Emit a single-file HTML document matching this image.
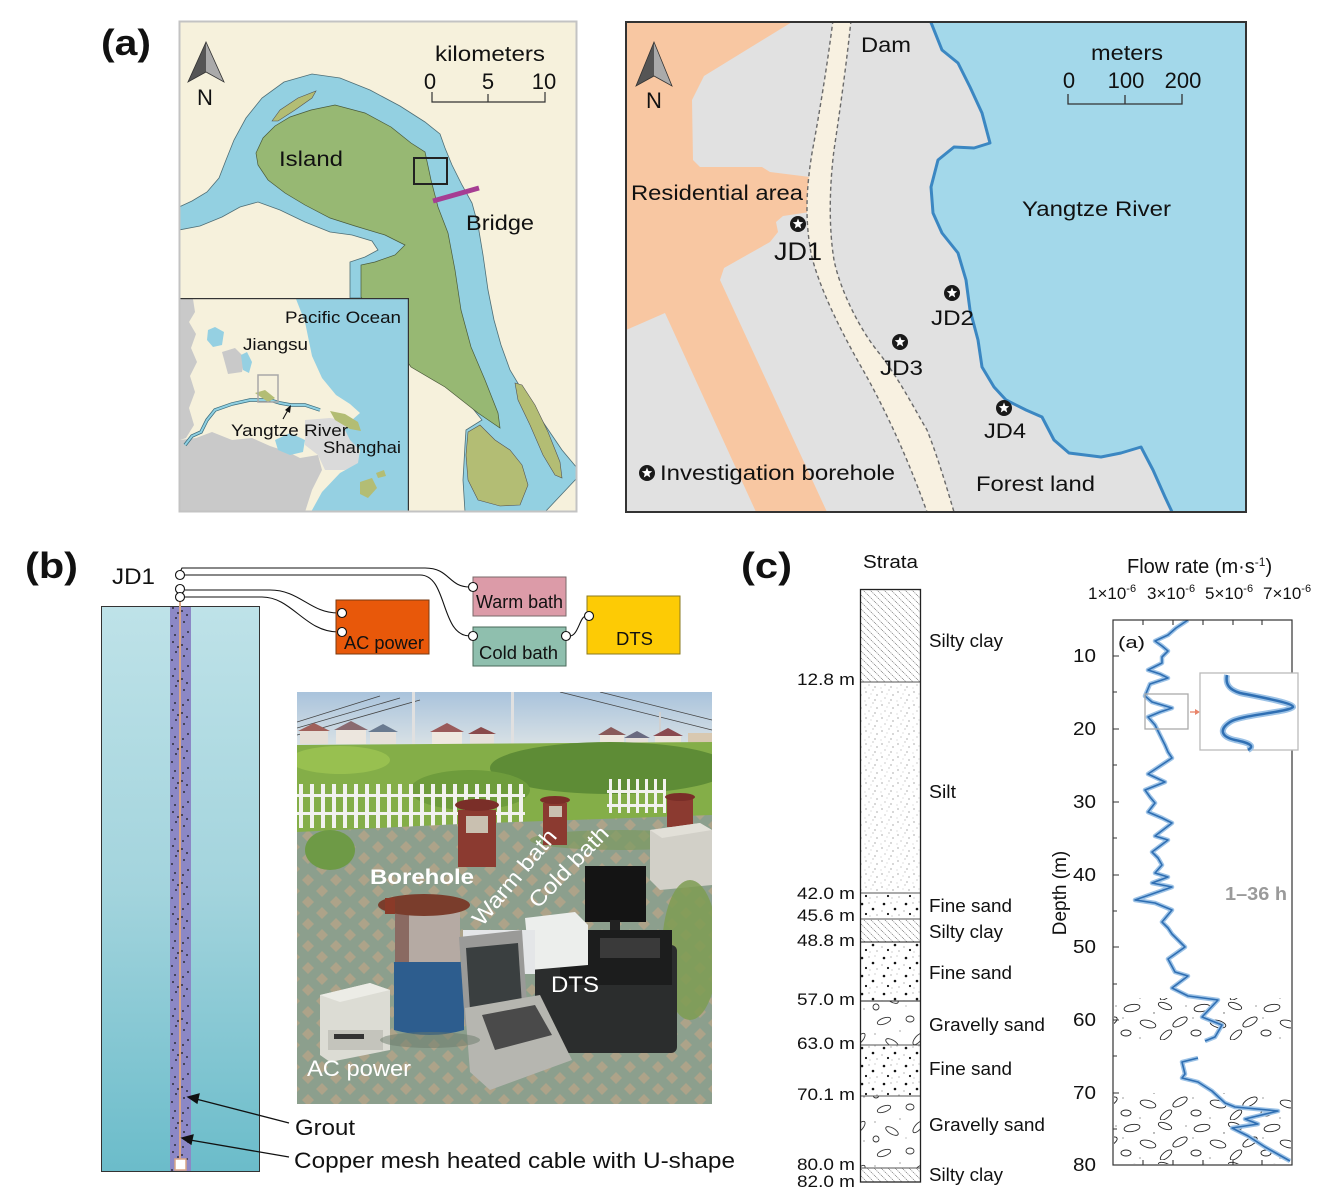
<!DOCTYPE html>
<html><head><meta charset="utf-8">
<style>
html,body{margin:0;padding:0;background:#fff;}
svg{display:block;font-family:"Liberation Sans",Arial,sans-serif;}
</style></head><body>
<svg width="1320" height="1194" viewBox="0 0 1320 1194" xmlns="http://www.w3.org/2000/svg">
<defs>
  <pattern id="hatch" width="7" height="7" patternUnits="userSpaceOnUse">
    <path d="M0,0 L7,7 M-1,6 L1,8 M6,-1 L8,1" stroke="#7a7a7a" stroke-width="0.7" stroke-dasharray="1.3 0.8"/>
  </pattern>
  <pattern id="silt" width="16" height="13" patternUnits="userSpaceOnUse">
    <g fill="#777"><circle cx="2" cy="3" r="0.6"/><circle cx="9" cy="1" r="0.5"/><circle cx="13" cy="6" r="0.6"/><circle cx="5" cy="9" r="0.5"/><circle cx="11" cy="11" r="0.6"/><circle cx="1" cy="12" r="0.4"/><circle cx="7" cy="5" r="0.4"/></g>
  </pattern>
  <pattern id="fsand" width="22" height="18" patternUnits="userSpaceOnUse">
    <g fill="#111"><circle cx="4" cy="4" r="1.3"/><circle cx="15" cy="9" r="1.3"/><circle cx="8" cy="14" r="1.1"/></g>
    <g fill="#888"><circle cx="11" cy="3" r="0.6"/><circle cx="19" cy="15" r="0.6"/><circle cx="2" cy="11" r="0.6"/><circle cx="17" cy="2" r="0.5"/><circle cx="12" cy="16" r="0.5"/></g>
  </pattern>
  <pattern id="gravel" width="58" height="44" patternUnits="userSpaceOnUse">
    <g fill="none" stroke="#333" stroke-width="0.9">
      <ellipse cx="14" cy="9" rx="7" ry="3" transform="rotate(-20 14 9)"/>
      <ellipse cx="40" cy="7" rx="4" ry="3"/>
      <ellipse cx="48" cy="27" rx="7" ry="3" transform="rotate(-50 48 27)"/>
      <ellipse cx="22" cy="31" rx="7" ry="3" transform="rotate(30 22 31)"/>
      <ellipse cx="6" cy="39" rx="3" ry="3"/>
    </g>
    <g fill="#666"><circle cx="30" cy="19" r="0.6"/><circle cx="5" cy="22" r="0.6"/><circle cx="52" cy="41" r="0.6"/><circle cx="36" cy="38" r="0.5"/></g>
  </pattern>
  <pattern id="gravel2" width="70" height="40" patternUnits="userSpaceOnUse">
    <g fill="none" stroke="#222" stroke-width="0.9">
      <ellipse cx="12" cy="8" rx="8" ry="3.5" transform="rotate(-10 12 8)"/>
      <ellipse cx="45" cy="6" rx="7" ry="3" transform="rotate(20 45 6)"/>
      <ellipse cx="60" cy="22" rx="8" ry="3.5" transform="rotate(-30 60 22)"/>
      <ellipse cx="28" cy="24" rx="8" ry="3.5" transform="rotate(15 28 24)"/>
      <ellipse cx="6" cy="33" rx="5" ry="3"/>
      <ellipse cx="46" cy="35" rx="7" ry="3" transform="rotate(-40 46 35)"/>
    </g>
    <g fill="#555"><circle cx="34" cy="13" r="0.7"/><circle cx="20" cy="38" r="0.6"/><circle cx="66" cy="6" r="0.6"/><circle cx="3" cy="18" r="0.6"/></g>
  </pattern>
  <pattern id="grout" x="170" y="606" width="21" height="34" patternUnits="userSpaceOnUse">
    <g fill="#111"><circle cx="3" cy="2" r="0.9"/><circle cx="12" cy="5" r="0.9"/><circle cx="17" cy="9" r="0.9"/><circle cx="6" cy="12" r="0.9"/><circle cx="14" cy="16" r="0.9"/><circle cx="2" cy="20" r="0.9"/><circle cx="10" cy="23" r="0.9"/><circle cx="18" cy="26" r="0.9"/><circle cx="5" cy="29" r="0.9"/><circle cx="13" cy="31" r="0.9"/><circle cx="8" cy="7" r="0.9"/></g>
  </pattern>
  <pattern id="pave" width="28" height="22" patternUnits="userSpaceOnUse">
    <rect width="28" height="22" fill="#8c9f8d"/>
    <path d="M14,5 L20,11 L14,17 L8,11Z" fill="#ada389"/>
    <path d="M0,-6 L6,0 L0,6 L-6,0Z M28,-6 L34,0 L28,6 L22,0Z M0,16 L6,22 L0,28 L-6,22Z M28,16 L34,22 L28,28 L22,22Z" fill="#ada389"/>
  </pattern>
  <linearGradient id="colG" x1="0" y1="0" x2="0" y2="1">
    <stop offset="0" stop-color="#bee2e8"/><stop offset="0.5" stop-color="#a3d4dd"/><stop offset="1" stop-color="#6bbcca"/>
  </linearGradient>
  <linearGradient id="skyG" x1="0" y1="0" x2="0" y2="1">
    <stop offset="0" stop-color="#a9c3dc"/><stop offset="1" stop-color="#dde4e6"/>
  </linearGradient>
  <clipPath id="lmClip"><rect x="180" y="22" width="396" height="489"/></clipPath>
  <clipPath id="inClip"><rect x="180" y="299" width="228" height="213"/></clipPath>
  <clipPath id="rmClip"><rect x="627" y="23" width="618" height="488"/></clipPath>
  <clipPath id="phClip"><rect x="297" y="692" width="415" height="412"/></clipPath>
  <clipPath id="chClip"><rect x="1113" y="620" width="179" height="545"/></clipPath>
  <g id="star">
    <circle r="8" fill="#1a1a1a"/>
    <polygon points="0,-5.5 1.41,-1.94 5.23,-1.7 2.28,0.74 3.23,4.45 0,2.4 -3.23,4.45 -2.28,0.74 -5.23,-1.7 -1.41,-1.94" fill="#fff"/>
  </g>
</defs>

<!-- ============ PANEL LABELS ============ -->
<text x="101" y="55" font-size="36" font-weight="bold" textLength="50" lengthAdjust="spacingAndGlyphs" fill="#111">(a)</text>
<text x="25" y="578" font-size="36" font-weight="bold" textLength="53" lengthAdjust="spacingAndGlyphs" fill="#111">(b)</text>
<text x="741" y="578" font-size="36" font-weight="bold" textLength="51" lengthAdjust="spacingAndGlyphs" fill="#111">(c)</text>

<!-- ============ LEFT MAP ============ -->
<g clip-path="url(#lmClip)">
  <rect x="179" y="21" width="398" height="491" fill="#f6f1dc"/>
  <path d="M179,207 L192,201 L207,192 L219,178 L226,160 L234,140 L246,118 L262,98 L284,82 L312,74 L340,78 L370,90 L400,106 L425,122 L440,134 L445,148 L452,165 L462,185 L472,203 L478,225 L483,255 L488,290 L494,320 L501,345 L510,370 L525,395 L545,425 L562,450 L577,468 L577,478 L545,512 L465,512 L463,480 L465,445 L466,430 L482,420 L470,405 L440,380 L405,355 L380,320 L368,300 L365,298 L350,298 L350,262 L365,257 L378,250 L372,241 L352,235 L330,232 L305,222 L280,210 L258,202 L240,207 L222,217 L200,226 L179,230 Z" fill="#93d0e1" stroke="#4e6e76" stroke-width="0.8"/>
  <path d="M256,153 L263,138 L275,126 L290,117 L311,110 L335,105 L365,113 L391,127 L411,143 L425,152 L431,180 L438,207 L448,233 L455,270 L461,310 L471,347 L485,380 L498,413 L500,428 L478,413 L445,387 L411,367 L378,320 L361,297 L361,265 L375,262 L395,255 L405,245 L385,235 L355,226 L330,218 L305,205 L285,193 L268,180 L258,165 Z" fill="#97b873" stroke="#4a5a3a" stroke-width="0.7"/>
  <path d="M272,121 L280,110 L298,98 L316,91 L312,98 L295,110 L278,121 Z" fill="#b3bd74" stroke="#555" stroke-width="0.6"/>
  <path d="M468,432 L480,425 L495,440 L510,450 L522,465 L528,485 L520,505 L500,506 L478,500 L468,480 L466,455 Z" fill="#b3bd74" stroke="#555" stroke-width="0.6"/>
  <path d="M515,383 L522,385 L535,405 L548,432 L560,462 L562,478 L555,475 L543,455 L530,425 L518,400 Z" fill="#b3bd74" stroke="#555" stroke-width="0.6"/>
  <path d="M555,512 L577,480 L577,512 Z" fill="#f6f1dc"/>
  <line x1="433" y1="201" x2="479" y2="188" stroke="#a63e93" stroke-width="5"/>
  <rect x="414" y="158" width="33" height="26" fill="none" stroke="#222" stroke-width="2"/>
  <text x="435" y="61" font-size="21" textLength="110" lengthAdjust="spacingAndGlyphs" fill="#111">kilometers</text>
  <text x="430" y="89" font-size="22" text-anchor="middle" fill="#111">0</text>
  <text x="488" y="89" font-size="22" text-anchor="middle" fill="#111">5</text>
  <text x="544" y="89" font-size="22" text-anchor="middle" fill="#111">10</text>
  <path d="M432,92 L432,102 L545,102 L545,92 M488,102 L488,94" fill="none" stroke="#333" stroke-width="1.2"/>
  <text x="279" y="166" font-size="21" textLength="64" lengthAdjust="spacingAndGlyphs" fill="#111">Island</text>
  <text x="466" y="230" font-size="21" textLength="68" lengthAdjust="spacingAndGlyphs" fill="#111">Bridge</text>
  <polygon points="206,42 188,82 206,72" fill="#555"/>
  <polygon points="206,42 206,72 224,82" fill="#aaa"/>
  <polygon points="206,42 188,82 206,72 224,82" fill="none" stroke="#333" stroke-width="0.8"/>
  <text x="205" y="105" font-size="22" text-anchor="middle" fill="#111">N</text>

  <!-- inset -->
  <g clip-path="url(#inClip)">
    <rect x="179" y="298" width="230" height="215" fill="#f6f1dc"/>
    <path d="M180,299 L193,299 L195,312 L189,322 L196,334 L191,348 L197,362 L190,376 L195,392 L189,408 L194,425 L186,438 L180,440 Z" fill="#c9c9c9"/>
    <path d="M180,440 L196,438 L212,432 L232,440 L252,438 L270,446 L288,452 L300,458 L318,455 L322,470 L312,490 L305,512 L180,512 Z" fill="#c9c9c9"/>
    <path d="M222,352 L235,348 L245,358 L242,372 L228,374 Z" fill="#c9c9c9"/>
    <path d="M305,420 L330,418 L352,422 L360,432 L358,450 L362,463 L345,470 L325,470 L318,455 L305,445 Z" fill="#dadada"/>
    <path d="M296,299 L409,299 L409,512 L311,512 L322,492 L340,473 L358,463 L360,450 L350,440 L345,430 L352,420 L360,413 L350,404 L336,395 L322,378 L312,356 L305,322 Z" fill="#95d0e2"/>
    <path d="M185,445 L192,436 L201,432 L207,420 L215,410 L232,404 L250,400 L270,400 L280,403 L291,405 L305,405 L320,410" fill="none" stroke="#3c6e7e" stroke-width="3.5"/>
    <path d="M185,445 L192,436 L201,432 L207,420 L215,410 L232,404 L250,400 L270,400 L280,403 L291,405 L305,405 L320,410" fill="none" stroke="#8fd0e2" stroke-width="2"/>
    <path d="M208,330 L215,327 L224,332 L222,345 L213,347 L207,340 Z" fill="#95d0e2"/>
    <path d="M241,355 L247,352 L252,362 L249,373 L243,370 Z" fill="#95d0e2"/>
    <path d="M275,440 L290,433 L305,440 L303,452 L290,455 L278,450 Z" fill="#95d0e2"/>
    <path d="M330,411 L345,414 L358,422 L361,431 L350,429 L335,420 Z" fill="#b3bd74"/>
    <path d="M255,393 L265,390 L275,398 L268,402 Z" fill="#b3bd74"/>
    <path d="M360,482 L372,478 L377,488 L368,498 L360,494 Z" fill="#b3bd74"/>
    <path d="M376,473 L384,470 L386,476 L378,478 Z" fill="#b3bd74"/>
    <rect x="258" y="375" width="20" height="27" fill="none" stroke="#a8a8a8" stroke-width="1.5"/>
    <line x1="283" y1="419" x2="288" y2="410" stroke="#111" stroke-width="1.1"/>
    <polygon points="291,405 290,413 285,410" fill="#111"/>
    <text x="285" y="323" font-size="17" textLength="116" lengthAdjust="spacingAndGlyphs" fill="#111">Pacific Ocean</text>
    <text x="243" y="350" font-size="17" textLength="65" lengthAdjust="spacingAndGlyphs" fill="#111">Jiangsu</text>
    <text x="231" y="436" font-size="17" textLength="117" lengthAdjust="spacingAndGlyphs" fill="#111">Yangtze River</text>
    <text x="323" y="453" font-size="17" textLength="78" lengthAdjust="spacingAndGlyphs" fill="#111">Shanghai</text>
  </g>
  <rect x="179.6" y="298.6" width="228.8" height="213" fill="none" stroke="#333" stroke-width="1.2"/>
</g>
<rect x="179.5" y="21.5" width="397" height="490" fill="none" stroke="#c3c3c3" stroke-width="2"/>

<!-- ============ RIGHT MAP ============ -->
<g clip-path="url(#rmClip)">
  <rect x="626" y="22" width="620" height="490" fill="#e1e1e1"/>
  <path d="M626,22 L792,22 L704,76 L692,100 L693,160 L700,167 L762,167 L770,172 L810,177 L810,212 L783,216 L776,222 L778,232 L770,242 L724,268 L720,280 L827,512 L756,512 L665,313 L626,330 Z" fill="#f8c7a2"/>
  <path d="M833,20 C828,60 820,110 812,153 C806,190 805,220 811,253 C818,285 840,330 863,370 C880,400 905,450 927,512 L954,512 C946,485 937,455 927,430 C915,410 900,380 879,353 C860,330 840,290 834,260 C829,230 829,190 834,150 C840,110 847,60 851,20 Z" fill="#f8f1e1"/>
  <path d="M833,20 C828,60 820,110 812,153 C806,190 805,220 811,253 C818,285 840,330 863,370 C880,400 905,450 927,512" fill="none" stroke="#6a6a6a" stroke-width="1.4" stroke-dasharray="4 3"/>
  <path d="M851,20 C847,60 840,110 834,150 C829,190 829,230 834,260 C840,290 860,330 879,353 C900,380 915,410 927,430 C937,455 946,485 954,512" fill="none" stroke="#6a6a6a" stroke-width="1.4" stroke-dasharray="4 3"/>
  <path d="M930,20 L942,50 L958,63 L970,87 L982,113 L990,143 L974,148 L954,147 L938,160 L931,187 L933,213 L942,233 L958,253 L966,280 L970,310 L978,340 L982,367 L994,387 L1006,400 L1026,410 L1042,417 L1054,440 L1069,453 L1101,457 L1121,453 L1141,447 L1153,470 L1165,497 L1173,514 L1248,514 L1248,20 Z" fill="#a3d8ea"/>
  <path d="M930,20 L942,50 L958,63 L970,87 L982,113 L990,143 L974,148 L954,147 L938,160 L931,187 L933,213 L942,233 L958,253 L966,280 L970,310 L978,340 L982,367 L994,387 L1006,400 L1026,410 L1042,417 L1054,440 L1069,453 L1101,457 L1121,453 L1141,447 L1153,470 L1165,497 L1173,514" fill="none" stroke="#3b87c2" stroke-width="3" stroke-linejoin="round"/>
  <use href="#star" x="798" y="224"/>
  <use href="#star" x="952" y="293"/>
  <use href="#star" x="900" y="342"/>
  <use href="#star" x="1004" y="408"/>
  <use href="#star" x="647" y="473"/>
  <text x="861" y="52" font-size="21" textLength="50" lengthAdjust="spacingAndGlyphs" fill="#111">Dam</text>
  <text x="1091" y="60" font-size="21" textLength="72" lengthAdjust="spacingAndGlyphs" fill="#111">meters</text>
  <text x="1069" y="88" font-size="22" text-anchor="middle" fill="#111">0</text>
  <text x="1126" y="88" font-size="22" text-anchor="middle" fill="#111">100</text>
  <text x="1183" y="88" font-size="22" text-anchor="middle" fill="#111">200</text>
  <path d="M1068,94 L1068,104 L1182,104 L1182,94 M1125,104 L1125,95" fill="none" stroke="#333" stroke-width="1.3"/>
  <text x="631" y="200" font-size="21" textLength="172" lengthAdjust="spacingAndGlyphs" fill="#111">Residential area</text>
  <text x="1022" y="216" font-size="21" textLength="149" lengthAdjust="spacingAndGlyphs" fill="#111">Yangtze River</text>
  <text x="774" y="260" font-size="25" textLength="48" lengthAdjust="spacingAndGlyphs" fill="#111">JD1</text>
  <text x="931" y="325" font-size="21" textLength="43" lengthAdjust="spacingAndGlyphs" fill="#111">JD2</text>
  <text x="880" y="375" font-size="21" textLength="43" lengthAdjust="spacingAndGlyphs" fill="#111">JD3</text>
  <text x="984" y="438" font-size="21" textLength="42" lengthAdjust="spacingAndGlyphs" fill="#111">JD4</text>
  <text x="660" y="480" font-size="21" textLength="235" lengthAdjust="spacingAndGlyphs" fill="#111">Investigation borehole</text>
  <text x="976" y="491" font-size="21" textLength="119" lengthAdjust="spacingAndGlyphs" fill="#111">Forest land</text>
  <polygon points="654,42 636,86 654,76" fill="#555"/>
  <polygon points="654,42 654,76 672,86" fill="#aaa"/>
  <polygon points="654,42 636,86 654,76 672,86" fill="none" stroke="#333" stroke-width="0.8"/>
  <text x="654" y="108" font-size="22" text-anchor="middle" fill="#111">N</text>
</g>
<rect x="626" y="22" width="620" height="490" fill="none" stroke="#333" stroke-width="2"/>

<!-- ============ PANEL B ============ -->
<rect x="101.5" y="606.5" width="158" height="565" fill="url(#colG)" stroke="#333" stroke-width="1"/>
<rect x="170" y="607" width="21" height="564" fill="#8c88c6"/>
<rect x="170" y="607" width="21" height="564" fill="url(#grout)"/>
<line x1="180" y1="597" x2="180" y2="1160" stroke="#d9a587" stroke-width="2"/>
<rect x="175" y="1159" width="11" height="11" fill="#fff" stroke="#d9a587" stroke-width="1.5"/>

<g fill="none" stroke="#111" stroke-width="1.1">
  <path d="M180,572 L182,568 L425,568 C450,568 448,587 470,587"/>
  <path d="M185,575 L420,575 C448,575 440,636 470,636"/>
  <path d="M185,590 L270,590 C300,590 310,613 338,613"/>
  <path d="M185,597 L262,597 C292,597 305,632 338,632"/>
  <path d="M570,636 C578,636 580,616 586,616"/>
</g>
<rect x="336" y="600" width="93" height="54" fill="#e8580a" stroke="#7a3a10" stroke-width="1"/>
<rect x="473" y="577" width="93" height="39" fill="#dc9ba8" stroke="#7a6a6a" stroke-width="1"/>
<rect x="473" y="627" width="93" height="39" fill="#8fbfae" stroke="#4a6a5a" stroke-width="1"/>
<rect x="587" y="596" width="93" height="58" fill="#fdcb05" stroke="#8a7a20" stroke-width="1"/>
<g fill="#fff" stroke="#111" stroke-width="1.1">
  <circle cx="180" cy="575" r="4.5"/>
  <circle cx="180" cy="589" r="4.5"/>
  <circle cx="180" cy="597" r="4.5"/>
  <circle cx="342" cy="613" r="4.5"/>
  <circle cx="342" cy="632" r="4.5"/>
  <circle cx="473" cy="587" r="4.5"/>
  <circle cx="473" cy="636" r="4.5"/>
  <circle cx="566" cy="636" r="4.5"/>
  <circle cx="589" cy="616" r="4.5"/>
</g>
<text x="112" y="584" font-size="22" textLength="43" lengthAdjust="spacingAndGlyphs" fill="#111">JD1</text>
<text x="476" y="608" font-size="18" textLength="87" lengthAdjust="spacingAndGlyphs" fill="#111">Warm bath</text>
<text x="344" y="649" font-size="18" textLength="80" lengthAdjust="spacingAndGlyphs" fill="#111">AC power</text>
<text x="479" y="659" font-size="18" textLength="79" lengthAdjust="spacingAndGlyphs" fill="#111">Cold bath</text>
<text x="616" y="645" font-size="18" textLength="37" lengthAdjust="spacingAndGlyphs" fill="#111">DTS</text>

<!-- photo -->
<g clip-path="url(#phClip)">
  <rect x="297" y="692" width="415" height="412" fill="#8fa090"/>
  <rect x="297" y="692" width="415" height="58" fill="url(#skyG)"/>
  <g stroke="#444" stroke-width="0.8" fill="none">
    <path d="M297,722 L380,696"/><path d="M297,728 L400,698"/><path d="M297,735 L420,700"/>
    <path d="M560,692 L712,730"/><path d="M600,692 L712,720"/>
  </g>
  <rect x="412" y="692" width="3" height="62" fill="#e0e0e0"/>
  <rect x="511" y="692" width="3" height="64" fill="#e0e0e0"/>
  <rect x="659" y="712" width="2" height="42" fill="#d0d0d0"/>
  <g>
    <rect x="300" y="730" width="28" height="14" fill="#e6ded6"/><path d="M298,731 L314,723 L330,731Z" fill="#a0605a"/>
    <rect x="336" y="729" width="30" height="15" fill="#ece6de"/><path d="M334,730 L351,721 L368,730Z" fill="#8a6a70"/>
    <rect x="370" y="731" width="26" height="13" fill="#e6e0da"/><path d="M368,732 L383,724 L398,732Z" fill="#6a7a90"/>
    <rect x="432" y="731" width="30" height="14" fill="#eee8e0"/><path d="M430,732 L447,723 L464,732Z" fill="#9a5a5a"/>
    <rect x="470" y="733" width="24" height="12" fill="#e6e0da"/><path d="M468,734 L481,727 L496,734Z" fill="#8a4a4a"/>
    <rect x="600" y="734" width="24" height="12" fill="#ece6de"/><path d="M598,735 L611,727 L626,735Z" fill="#8a5a5a"/>
    <rect x="626" y="737" width="22" height="10" fill="#e6e0da"/><path d="M624,738 L637,731 L650,738Z" fill="#6a6a80"/>
    <rect x="655" y="735" width="26" height="13" fill="#eae4dc"/><path d="M653,736 L668,728 L683,736Z" fill="#8a4a50"/>
    <rect x="688" y="733" width="24" height="14" fill="#d8c8b0"/>
  </g>
  <path d="M297,745 L712,742 L712,830 L297,840 Z" fill="#84ae48"/>
  <ellipse cx="610" cy="768" rx="120" ry="26" fill="#5e8c36"/>
  <ellipse cx="470" cy="790" rx="60" ry="20" fill="#6e9c3c"/>
  <ellipse cx="340" cy="760" rx="50" ry="14" fill="#98c050"/>
  <g fill="#f2f2ee">
    <rect x="297" y="794" width="228" height="3"/><rect x="297" y="812" width="228" height="3"/>
    <rect x="299" y="784" width="4" height="44"/><rect x="310" y="784" width="4" height="44"/><rect x="321" y="784" width="4" height="44"/><rect x="332" y="784" width="4" height="44"/><rect x="343" y="784" width="4" height="44"/><rect x="354" y="784" width="4" height="44"/><rect x="365" y="784" width="4" height="44"/><rect x="376" y="784" width="4" height="44"/><rect x="387" y="784" width="4" height="44"/><rect x="398" y="784" width="4" height="44"/><rect x="409" y="784" width="4" height="44"/><rect x="420" y="784" width="4" height="44"/><rect x="431" y="784" width="4" height="44"/><rect x="442" y="784" width="4" height="44"/><rect x="453" y="784" width="4" height="44"/><rect x="464" y="784" width="4" height="44"/><rect x="475" y="784" width="4" height="44"/><rect x="486" y="784" width="4" height="44"/><rect x="497" y="784" width="4" height="44"/><rect x="508" y="784" width="4" height="44"/><rect x="519" y="784" width="4" height="44"/>
    <rect x="607" y="790" width="58" height="3"/><rect x="607" y="804" width="58" height="3"/>
    <rect x="609" y="779" width="3" height="34"/><rect x="618" y="779" width="3" height="34"/><rect x="627" y="779" width="3" height="34"/><rect x="636" y="779" width="3" height="34"/><rect x="645" y="779" width="3" height="34"/><rect x="654" y="779" width="3" height="34"/><rect x="663" y="779" width="3" height="34"/>
  </g>
  <path d="M297,832 L460,824 L712,815 L712,1104 L297,1104 Z" fill="url(#pave)"/>
  <ellipse cx="620" cy="840" rx="90" ry="10" fill="#7c9a60" opacity="0.7"/>
  <ellipse cx="330" cy="850" rx="25" ry="20" fill="#6e9a46"/>
  <!-- red cylinders -->
  <rect x="458" y="810" width="38" height="57" fill="#8b3a30"/>
  <ellipse cx="477" cy="805" rx="22" ry="6" fill="#7a2e28"/>
  <rect x="466" y="816" width="22" height="17" fill="#c9c0b0"/>
  <rect x="543" y="803" width="24" height="42" fill="#8b3a30"/>
  <ellipse cx="555" cy="800" rx="15" ry="4" fill="#7a2e28"/>
  <rect x="549" y="806" width="13" height="11" fill="#c9c0b0"/>
  <rect x="667" y="799" width="26" height="28" fill="#8b3a30"/>
  <ellipse cx="680" cy="797" rx="15" ry="4" fill="#7a2e28"/>
  <!-- concrete -->
  <path d="M650,830 L700,823 L712,830 L712,885 L660,890 L650,880 Z" fill="#d2d0c8"/>
  <path d="M650,830 L700,823 L712,830 L662,838 Z" fill="#e2e0d8"/>
  <!-- vegetation right foreground -->
  <ellipse cx="690" cy="950" rx="28" ry="70" fill="#7e9c52" opacity="0.85"/>
  <!-- monitor -->
  <rect x="585" y="866" width="61" height="56" fill="#141414"/>
  <rect x="610" y="920" width="10" height="14" fill="#222"/>
  <!-- DTS case -->
  <rect x="535" y="945" width="142" height="108" rx="6" fill="#2b2d2d"/>
  <rect x="560" y="930" width="112" height="55" fill="#1c1d1d"/>
  <rect x="600" y="938" width="60" height="20" fill="#3a3a3a"/>
  <!-- white cooler / box -->
  <path d="M525,918 L575,912 L588,925 L588,965 L530,970 Z" fill="#eceeec"/>
  <rect x="463" y="930" width="72" height="44" fill="#e4e6e8"/>
  <!-- borehole -->
  <rect x="395" y="905" width="65" height="60" fill="#b5aaa3"/>
  <rect x="395" y="905" width="14" height="60" fill="#8a6a62"/>
  <path d="M394,962 L464,962 L464,1030 Q430,1040 394,1030 Z" fill="#2d5d8e"/>
  <ellipse cx="424" cy="905" rx="46" ry="11" fill="#7a3d2c"/>
  <rect x="385" y="898" width="10" height="16" fill="#8a3a28"/>
  <!-- AC power box -->
  <path d="M320,995 L370,983 L390,990 L390,1050 L330,1062 L320,1055 Z" fill="#dcdcd4"/>
  <path d="M320,995 L370,983 L390,990 L340,1002 Z" fill="#ecece6"/>
  <rect x="328" y="1030" width="55" height="20" fill="#c4c4bc"/>
  <rect x="334" y="1034" width="30" height="5" fill="#333"/>
  <!-- laptop -->
  <path d="M459,937 L522,930 L528,1020 L465,1025 Z" fill="#9a9a98"/>
  <path d="M466,948 L518,943 L522,1005 L470,1010 Z" fill="#3a3f40"/>
  <path d="M465,1008 L540,995 L572,1060 L490,1090 L470,1072 Z" fill="#b6b6b0"/>
  <path d="M482,1015 L535,1005 L552,1035 L495,1050 Z" fill="#4a4a4a"/>
  <!-- shadows -->
  <ellipse cx="430" cy="1040" rx="50" ry="8" fill="#6a7a6a" opacity="0.5"/>
  <text x="370" y="884" font-size="21" font-weight="bold" textLength="104" lengthAdjust="spacingAndGlyphs" fill="#fff">Borehole</text>
  <text transform="translate(520,882) rotate(-50)" font-size="22" text-anchor="middle" textLength="118" lengthAdjust="spacingAndGlyphs" fill="#fff">Warm bath</text>
  <text transform="translate(574,872) rotate(-46)" font-size="22" text-anchor="middle" textLength="104" lengthAdjust="spacingAndGlyphs" fill="#fff">Cold bath</text>
  <text x="551" y="992" font-size="22" textLength="48" lengthAdjust="spacingAndGlyphs" fill="#fff">DTS</text>
  <text x="307" y="1076" font-size="22" textLength="104" lengthAdjust="spacingAndGlyphs" fill="#fff">AC power</text>
</g>

<!-- arrows to grout / cable -->
<g stroke="#111" stroke-width="1.3" fill="#111">
  <line x1="289" y1="1123" x2="196" y2="1099"/>
  <polygon points="188,1097 199,1094 197,1103"/>
  <line x1="289" y1="1157" x2="190" y2="1140"/>
  <polygon points="182,1138 193,1135 191,1144"/>
</g>
<text x="295" y="1135" font-size="22" textLength="60" lengthAdjust="spacingAndGlyphs" fill="#111">Grout</text>
<text x="294" y="1168" font-size="22" textLength="441" lengthAdjust="spacingAndGlyphs" fill="#111">Copper mesh heated cable with U-shape</text>

<!-- ============ PANEL C: STRATA ============ -->
<text x="863" y="568" font-size="18" textLength="55" lengthAdjust="spacingAndGlyphs" fill="#111">Strata</text>
<rect x="861" y="590" width="59" height="92" fill="url(#hatch)"/>
<rect x="861" y="682" width="59" height="211" fill="url(#silt)"/>
<rect x="861" y="893" width="59" height="26" fill="url(#fsand)"/>
<rect x="861" y="919" width="59" height="23" fill="url(#hatch)"/>
<rect x="861" y="942" width="59" height="59" fill="url(#fsand)"/>
<rect x="861" y="1001" width="59" height="44" fill="url(#gravel)"/>
<rect x="861" y="1045" width="59" height="51" fill="url(#fsand)"/>
<rect x="861" y="1096" width="59" height="72" fill="url(#gravel)"/>
<rect x="861" y="1168" width="59" height="14" fill="url(#hatch)"/>
<g stroke="#555" stroke-width="0.9">
  <line x1="861" y1="682" x2="920" y2="682"/>
  <line x1="861" y1="893" x2="920" y2="893"/>
  <line x1="861" y1="919" x2="920" y2="919"/>
  <line x1="861" y1="942" x2="920" y2="942" stroke="#222"/>
  <line x1="861" y1="1001" x2="920" y2="1001" stroke="#222"/>
  <line x1="861" y1="1045" x2="920" y2="1045"/>
  <line x1="861" y1="1096" x2="920" y2="1096"/>
  <line x1="861" y1="1168" x2="920" y2="1168"/>
</g>
<rect x="860.5" y="589.5" width="60" height="592.5" fill="none" stroke="#222" stroke-width="1.3"/>
<g font-size="17" fill="#111">
  <text x="797" y="685" textLength="58" lengthAdjust="spacingAndGlyphs">12.8 m</text>
  <text x="797" y="899" textLength="58" lengthAdjust="spacingAndGlyphs">42.0 m</text>
  <text x="797" y="921" textLength="58" lengthAdjust="spacingAndGlyphs">45.6 m</text>
  <text x="797" y="946" textLength="58" lengthAdjust="spacingAndGlyphs">48.8 m</text>
  <text x="797" y="1005" textLength="58" lengthAdjust="spacingAndGlyphs">57.0 m</text>
  <text x="797" y="1049" textLength="58" lengthAdjust="spacingAndGlyphs">63.0 m</text>
  <text x="797" y="1100" textLength="58" lengthAdjust="spacingAndGlyphs">70.1 m</text>
  <text x="797" y="1170" textLength="58" lengthAdjust="spacingAndGlyphs">80.0 m</text>
  <text x="797" y="1187" textLength="58" lengthAdjust="spacingAndGlyphs">82.0 m</text>
</g>
<g font-size="18" fill="#111">
  <text x="929" y="647" textLength="74" lengthAdjust="spacingAndGlyphs">Silty clay</text>
  <text x="929" y="798" textLength="27" lengthAdjust="spacingAndGlyphs">Silt</text>
  <text x="929" y="912" textLength="83" lengthAdjust="spacingAndGlyphs">Fine sand</text>
  <text x="929" y="938" textLength="74" lengthAdjust="spacingAndGlyphs">Silty clay</text>
  <text x="929" y="979" textLength="83" lengthAdjust="spacingAndGlyphs">Fine sand</text>
  <text x="929" y="1031" textLength="116" lengthAdjust="spacingAndGlyphs">Gravelly sand</text>
  <text x="929" y="1075" textLength="83" lengthAdjust="spacingAndGlyphs">Fine sand</text>
  <text x="929" y="1131" textLength="116" lengthAdjust="spacingAndGlyphs">Gravelly sand</text>
  <text x="929" y="1181" textLength="74" lengthAdjust="spacingAndGlyphs">Silty clay</text>
</g>

<!-- ============ PANEL C: CHART ============ -->
<rect x="1114" y="998" width="177" height="43" fill="url(#gravel2)"/>
<rect x="1114" y="1093" width="177" height="71" fill="url(#gravel2)"/>
<g clip-path="url(#chClip)" fill="none" stroke-linejoin="round">
  <path d="M1188,620 L1176,628 L1168,635 L1155,641 L1162,646 L1168,651 L1162,657 L1162,663 L1148,670 L1160,674 L1168,678 L1150,684 L1145,696 L1152,702 L1172,708 L1160,712 L1148,717 L1155,725 L1160,735 L1165,745 L1168,752 L1172,758 L1160,766 L1148,774 L1165,782 L1145,790 L1150,797 L1155,803 L1148,812 L1162,818 L1172,823 L1155,836 L1168,840 L1152,852 L1158,858 L1162,865 L1155,873 L1168,877 L1152,883 L1172,887 L1135,900 L1155,903 L1172,910 L1162,922 L1168,928 L1172,934 L1185,947 L1168,959 L1175,972 L1188,976 L1172,988 L1188,996 L1218,1000 L1202,1017 L1222,1025 L1215,1037 L1205,1041" stroke="#9cc2e6" stroke-width="4.5"/>
  <path d="M1188,620 L1176,628 L1168,635 L1155,641 L1162,646 L1168,651 L1162,657 L1162,663 L1148,670 L1160,674 L1168,678 L1150,684 L1145,696 L1152,702 L1172,708 L1160,712 L1148,717 L1155,725 L1160,735 L1165,745 L1168,752 L1172,758 L1160,766 L1148,774 L1165,782 L1145,790 L1150,797 L1155,803 L1148,812 L1162,818 L1172,823 L1155,836 L1168,840 L1152,852 L1158,858 L1162,865 L1155,873 L1168,877 L1152,883 L1172,887 L1135,900 L1155,903 L1172,910 L1162,922 L1168,928 L1172,934 L1185,947 L1168,959 L1175,972 L1188,976 L1172,988 L1188,996 L1218,1000 L1202,1017 L1222,1025 L1215,1037 L1205,1041" stroke="#2f6fb3" stroke-width="1.6"/>
  <path d="M1198,1058 L1182,1062 L1185,1074 L1182,1078 L1198,1082 L1212,1091 L1225,1103 L1235,1107 L1278,1111 L1245,1119 L1258,1124 L1232,1128 L1248,1136 L1265,1147 L1290,1161" stroke="#9cc2e6" stroke-width="4.5"/>
  <path d="M1198,1058 L1182,1062 L1185,1074 L1182,1078 L1198,1082 L1212,1091 L1225,1103 L1235,1107 L1278,1111 L1245,1119 L1258,1124 L1232,1128 L1248,1136 L1265,1147 L1290,1161" stroke="#2f6fb3" stroke-width="1.6"/>
</g>
<rect x="1113" y="620" width="179" height="545" fill="none" stroke="#333" stroke-width="1.2"/>
<g stroke="#333" stroke-width="1.1">
  <path d="M1143,620 v5 M1173,620 v5 M1203,620 v5 M1233,620 v5 M1262,620 v5"/>
  <path d="M1143,1165 v-5 M1173,1165 v-5 M1203,1165 v-5 M1233,1165 v-5 M1262,1165 v-5"/>
  <path d="M1113,656 h6 M1113,729 h6 M1113,802 h6 M1113,875 h6 M1113,947 h6 M1113,1020 h6 M1113,1093 h6 M1113,692 h4 M1113,765 h4 M1113,838 h4 M1113,911 h4 M1113,984 h4 M1113,1056 h4 M1113,1129 h4"/>
</g>
<rect x="1145" y="694" width="43" height="35" fill="none" stroke="#aaa" stroke-width="1.3"/>
<line x1="1190" y1="712" x2="1196" y2="712" stroke="#e8846a" stroke-width="1.3"/>
<polygon points="1200,712 1195,709 1195,715" fill="#e8846a"/>
<rect x="1200" y="673" width="98" height="77" fill="#fff" stroke="#bbb" stroke-width="1.3"/>
<path d="M1227,675 C1225,685 1230,690 1240,693 C1260,697 1293,703 1293,707 C1290,712 1240,715 1230,722 C1218,730 1222,737 1235,740 C1250,743 1255,746 1248,750" fill="none" stroke="#9cc2e6" stroke-width="6"/>
<path d="M1227,675 C1225,685 1230,690 1240,693 C1260,697 1293,703 1293,707 C1290,712 1240,715 1230,722 C1218,730 1222,737 1235,740 C1250,743 1255,746 1248,750" fill="none" stroke="#2f6fb3" stroke-width="2.5"/>
<text x="1118" y="648" font-size="17" textLength="27" lengthAdjust="spacingAndGlyphs" fill="#111">(a)</text>
<text x="1225" y="900" font-size="18" font-weight="bold" textLength="62" lengthAdjust="spacingAndGlyphs" fill="#9a9a9a">1–36 h</text>
<g font-size="18" fill="#111">
  <text x="1073" y="662" textLength="23" lengthAdjust="spacingAndGlyphs">10</text>
  <text x="1073" y="735" textLength="23" lengthAdjust="spacingAndGlyphs">20</text>
  <text x="1073" y="808" textLength="23" lengthAdjust="spacingAndGlyphs">30</text>
  <text x="1073" y="881" textLength="23" lengthAdjust="spacingAndGlyphs">40</text>
  <text x="1073" y="953" textLength="23" lengthAdjust="spacingAndGlyphs">50</text>
  <text x="1073" y="1026" textLength="23" lengthAdjust="spacingAndGlyphs">60</text>
  <text x="1073" y="1099" textLength="23" lengthAdjust="spacingAndGlyphs">70</text>
  <text x="1073" y="1171" textLength="23" lengthAdjust="spacingAndGlyphs">80</text>
</g>
<text transform="translate(1066,893) rotate(-90)" font-size="19" text-anchor="middle" fill="#111">Depth (m)</text>
<text x="1127" y="573" font-size="20" fill="#111">Flow rate (m·s<tspan font-size="12" dy="-7">-1</tspan><tspan dy="7">)</tspan></text>
<g font-size="17" fill="#111">
  <text x="1088" y="599">1×10<tspan font-size="11" dy="-7">-6</tspan></text>
  <text x="1147" y="599">3×10<tspan font-size="11" dy="-7">-6</tspan></text>
  <text x="1205" y="599">5×10<tspan font-size="11" dy="-7">-6</tspan></text>
  <text x="1263" y="599">7×10<tspan font-size="11" dy="-7">-6</tspan></text>
</g>
</svg>
</body></html>
